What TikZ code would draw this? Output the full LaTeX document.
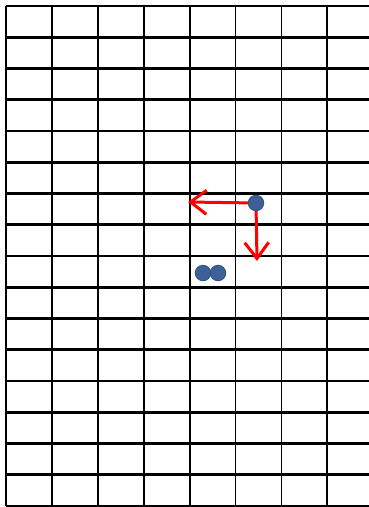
\documentclass[tikz,border=0pt]{standalone}
\usepackage{tikz}
\usepackage{xcolor}
\usetikzlibrary{arrows.meta,positioning}
\definecolor{ink}{HTML}{000000}
\definecolor{ball}{HTML}{3D6096}
\definecolor{ballrim}{HTML}{2F4E7E}
\definecolor{movered}{HTML}{FF0000}
\tikzset{
  row/.style={draw=ink,line width=2.8pt},
  col/.style={draw=ink,line width=1.8pt},
  token/.style={circle,draw=ballrim,fill=ball,line width=0.8pt,minimum size=15.5pt,inner sep=0pt},
  slide/.style={-{Straight Barb[length=16pt,width=24pt,line width=3pt]},draw=movered,line width=3pt}
}
\begin{document}
\begin{tikzpicture}[x=1pt,y=-1pt]
    \useasboundingbox (0,0) rectangle (369,507);
    \fill[white] (0,0) rectangle (369,507);

    % board
    \foreach \k in {0,...,16}
      \draw[row] (6,{6+31.25*\k}) -- (369,{6+31.25*\k});
    \foreach \k in {0,...,7}
      \draw[col] ({6+45.9*\k},6) -- ({6+45.9*\k},506);

    % tokens
    \node[token] (mover) at (256,203) {};
    \node[token] (pairA) at (203,273) {};
    \node[token] (pairB) at (218,273) {};

    \coordinate (westend) at (188,202);
    \coordinate (southend) at (257,261);
    \draw[slide] (mover) -- (westend);
    \draw[slide] (mover) -- (southend);
  \end{tikzpicture}
\end{document}
